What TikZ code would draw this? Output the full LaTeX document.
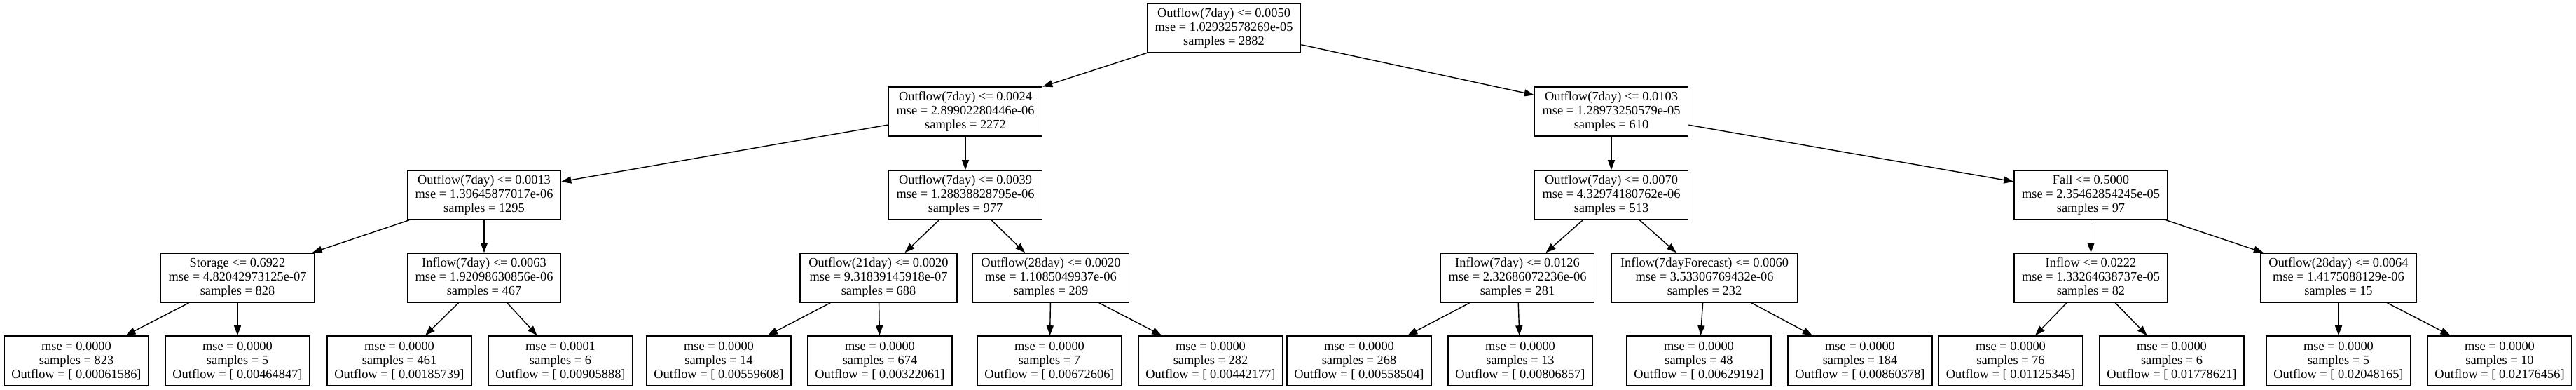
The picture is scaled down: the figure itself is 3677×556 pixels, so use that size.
\documentclass[tikz,border=0pt]{standalone}
\usepackage{fontspec}
\setmainfont{Liberation Serif}
\usetikzlibrary{arrows.meta}
\begin{document}
\begin{tikzpicture}[x=1pt,y=-1pt,
  box/.style={draw=black, line width=1.6pt, rectangle, minimum width=219pt, minimum height=70pt,
    inner xsep=2pt, inner ysep=0pt, align=center, font=\fontsize{18.4}{20}\selectfont},
  leaf/.style={box, minimum width=206pt, minimum height=71pt},
  edge/.style={line width=1.4pt, -{Triangle[length=14pt,width=10pt]}}]
\useasboundingbox (0,0) rectangle (3677,556);
% level 0
\node[box] (r) at (1747,40) {Outflow(7day) <= 0.0050\\mse = 1.02932578269e-05\\samples = 2882};
% level 1
\node[box] (a) at (1378,159) {Outflow(7day) <= 0.0024\\mse = 2.89902280446e-06\\samples = 2272};
\node[box] (b) at (2300,159) {Outflow(7day) <= 0.0103\\mse = 1.28973250579e-05\\samples = 610};
% level 2
\node[box] (aa) at (691,278) {Outflow(7day) <= 0.0013\\mse = 1.39645877017e-06\\samples = 1295};
\node[box] (ab) at (1378,278) {Outflow(7day) <= 0.0039\\mse = 1.28838828795e-06\\samples = 977};
\node[box] (ba) at (2300,278) {Outflow(7day) <= 0.0070\\mse = 4.32974180762e-06\\samples = 513};
\node[box] (bb) at (2984.5,278) {Fall <= 0.5000\\mse = 2.35462854245e-05\\samples = 97};
% level 3
\node[box] (aaa) at (339,396) {Storage <= 0.6922\\mse = 4.82042973125e-07\\samples = 828};
\node[box] (aab) at (691,396) {Inflow(7day) <= 0.0063\\mse = 1.92098630856e-06\\samples = 467};
\node[box, minimum width=224pt] (aba) at (1254,396) {Outflow(21day) <= 0.0020\\mse = 9.31839145918e-07\\samples = 688};
\node[box, minimum width=223pt] (abb) at (1500,396) {Outflow(28day) <= 0.0020\\mse = 1.1085049937e-06\\samples = 289};
\node[box] (baa) at (2166,396) {Inflow(7day) <= 0.0126\\mse = 2.32686072236e-06\\samples = 281};
\node[box, minimum width=265pt] (bab) at (2433,396) {Inflow(7dayForecast) <= 0.0060\\mse = 3.53306769432e-06\\samples = 232};
\node[box] (bba) at (2984.5,396) {Inflow <= 0.0222\\mse = 1.33264638737e-05\\samples = 82};
\node[box, minimum width=223pt] (bbb) at (3338,396) {Outflow(28day) <= 0.0064\\mse = 1.4175088129e-06\\samples = 15};
% leaves
\node[leaf] (l1) at (109,514.5) {mse = 0.0000\\samples = 823\\Outflow = [ 0.00061586]};
\node[leaf] (l2) at (339,514.5) {mse = 0.0000\\samples = 5\\Outflow = [ 0.00464847]};
\node[leaf] (l3) at (570,514.5) {mse = 0.0000\\samples = 461\\Outflow = [ 0.00185739]};
\node[leaf] (l4) at (800,514.5) {mse = 0.0001\\samples = 6\\Outflow = [ 0.00905888]};
\node[leaf] (l5) at (1026,514.5) {mse = 0.0000\\samples = 14\\Outflow = [ 0.00559608]};
\node[leaf] (l6) at (1256,514.5) {mse = 0.0000\\samples = 674\\Outflow = [ 0.00322061]};
\node[leaf] (l7) at (1498,514.5) {mse = 0.0000\\samples = 7\\Outflow = [ 0.00672606]};
\node[leaf] (l8) at (1728,514.5) {mse = 0.0000\\samples = 282\\Outflow = [ 0.00442177]};
\node[leaf] (l9) at (1940,514.5) {mse = 0.0000\\samples = 268\\Outflow = [ 0.00558504]};
\node[leaf] (l10) at (2170,514.5) {mse = 0.0000\\samples = 13\\Outflow = [ 0.00806857]};
\node[leaf] (l11) at (2425,514.5) {mse = 0.0000\\samples = 48\\Outflow = [ 0.00629192]};
\node[leaf] (l12) at (2655,514.5) {mse = 0.0000\\samples = 184\\Outflow = [ 0.00860378]};
\node[leaf] (l13) at (2870,514.5) {mse = 0.0000\\samples = 76\\Outflow = [ 0.01125345]};
\node[leaf] (l14) at (3100,514.5) {mse = 0.0000\\samples = 6\\Outflow = [ 0.01778621]};
\node[leaf] (l15) at (3338,514.5) {mse = 0.0000\\samples = 5\\Outflow = [ 0.02048165]};
\node[leaf] (l16) at (3568,514.5) {mse = 0.0000\\samples = 10\\Outflow = [ 0.02176456]};
% edges
\draw[edge] (r) -- (a);
\draw[edge] (r) -- (b);
\draw[edge] (a) -- (aa);
\draw[edge] (a) -- (ab);
\draw[edge] (b) -- (ba);
\draw[edge] (b) -- (bb);
\draw[edge] (aa) -- (aaa);
\draw[edge] (aa) -- (aab);
\draw[edge] (ab) -- (aba);
\draw[edge] (ab) -- (abb);
\draw[edge] (ba) -- (baa);
\draw[edge] (ba) -- (bab);
\draw[edge] (bb) -- (bba);
\draw[edge] (bb) -- (bbb);
\draw[edge] (aaa) -- (l1);
\draw[edge] (aaa) -- (l2);
\draw[edge] (aab) -- (l3);
\draw[edge] (aab) -- (l4);
\draw[edge] (aba) -- (l5);
\draw[edge] (aba) -- (l6);
\draw[edge] (abb) -- (l7);
\draw[edge] (abb) -- (l8);
\draw[edge] (baa) -- (l9);
\draw[edge] (baa) -- (l10);
\draw[edge] (bab) -- (l11);
\draw[edge] (bab) -- (l12);
\draw[edge] (bba) -- (l13);
\draw[edge] (bba) -- (l14);
\draw[edge] (bbb) -- (l15);
\draw[edge] (bbb) -- (l16);
\end{tikzpicture}
\end{document}
